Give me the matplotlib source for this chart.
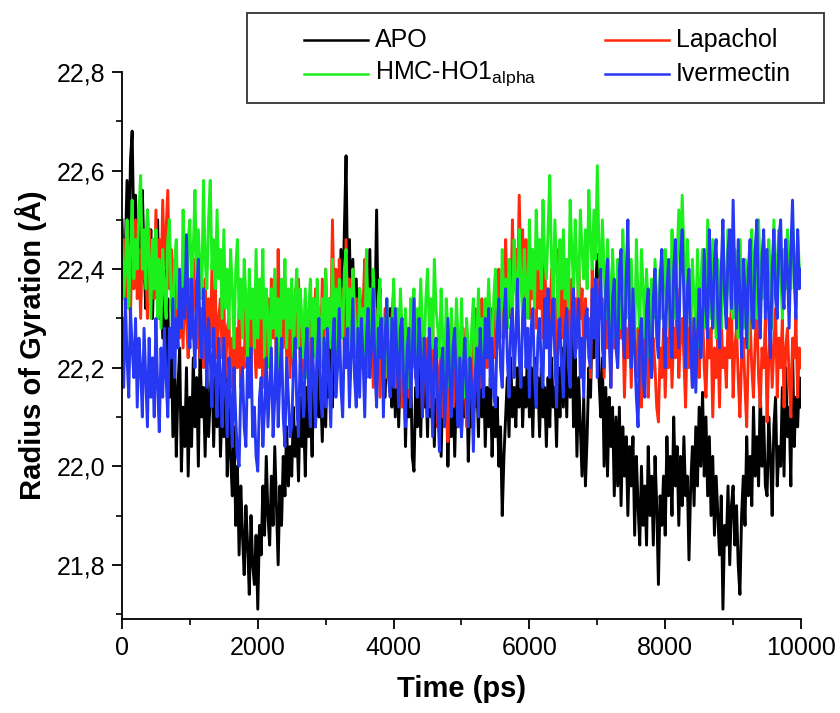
import numpy as np
import matplotlib
matplotlib.use('Agg')
import matplotlib.pyplot as plt
from matplotlib.lines import Line2D
from matplotlib.patches import Rectangle
from matplotlib.ticker import MultipleLocator, FuncFormatter

plt.rcParams['font.family'] = ['Liberation Sans', 'DejaVu Sans']
plt.rcParams['mathtext.fontset'] = 'custom'
plt.rcParams['mathtext.rm'] = 'Liberation Sans'

# radius of gyration (A), one sample every 25 ps from 0 to 10000 ps
# (one row = 500 ps)
apo = [
    22.50, 22.36, 22.44, 22.58, 22.40, 22.62, 22.68, 22.46, 22.55, 22.38, 22.50, 22.34, 22.56, 22.42, 22.32, 22.52, 22.38, 22.48, 22.30, 22.46,
    22.36, 22.50, 22.30, 22.44, 22.26, 22.40, 22.20, 22.34, 22.14, 22.28, 22.06, 22.22, 22.02, 22.16, 22.24, 21.99, 22.12, 22.04, 22.20, 21.98,
    22.14, 22.04, 22.22, 22.08, 22.18, 22.00, 22.24, 22.10, 22.16, 22.02, 22.20, 22.06, 22.14, 22.22, 22.04, 22.18, 22.08, 22.24, 22.02, 22.12,
    22.06, 22.18, 21.98, 22.12, 22.02, 21.94, 22.08, 21.88, 22.00, 21.82, 21.96, 21.86, 21.78, 21.92, 21.84, 21.74, 21.90, 21.80, 21.76, 21.86,
    21.71, 21.88, 21.82, 21.96, 21.86, 22.02, 21.90, 21.84, 21.98, 21.88, 22.04, 21.92, 21.80, 21.96, 21.88, 22.02, 21.94, 22.08, 21.96, 22.04,
    21.98, 22.12, 22.02, 22.08, 21.97, 22.14, 22.04, 22.10, 21.98, 22.16, 22.06, 22.12, 22.02, 22.18, 22.08, 22.22, 22.10, 22.16, 22.05, 22.20,
    22.08, 22.24, 22.14, 22.28, 22.12, 22.32, 22.20, 22.36, 22.26, 22.44, 22.30, 22.48, 22.63, 22.34, 22.46, 22.28, 22.42, 22.24, 22.38, 22.22,
    22.36, 22.20, 22.34, 22.18, 22.40, 22.26, 22.44, 22.22, 22.38, 22.30, 22.52, 22.26, 22.36, 22.18, 22.30, 22.14, 22.28, 22.20, 22.32, 22.12,
    22.26, 22.10, 22.24, 22.08, 22.20, 22.14, 22.26, 22.04, 22.18, 22.10, 22.22, 22.02, 21.99, 22.16, 22.08, 22.20, 22.06, 22.24, 22.12, 22.18,
    22.06, 22.22, 22.10, 22.18, 22.04, 22.20, 22.08, 22.14, 22.02, 22.16, 22.10, 22.20, 22.00, 22.14, 22.06, 22.18, 22.02, 22.16, 22.08, 22.20,
    22.06, 22.18, 22.10, 22.20, 22.01, 22.14, 22.08, 22.22, 22.12, 22.18, 22.06, 22.24, 22.10, 22.20, 22.04, 22.16, 22.08, 22.18, 22.02, 22.12,
    22.06, 22.14, 22.00, 22.08, 21.90, 22.02, 22.10, 22.18, 22.06, 22.22, 22.10, 22.16, 22.08, 22.20, 22.12, 22.24, 22.08, 22.18, 22.12, 22.26,
    22.10, 22.20, 22.06, 22.22, 22.12, 22.18, 22.06, 22.20, 22.10, 22.16, 22.04, 22.18, 22.08, 22.22, 22.12, 22.16, 22.04, 22.20, 22.10, 22.24,
    22.12, 22.26, 22.10, 22.28, 22.14, 22.30, 22.08, 22.22, 22.02, 22.18, 22.08, 21.98, 22.14, 21.96, 22.06, 22.20, 22.14, 22.30, 22.22, 22.36,
    22.43, 22.18, 22.10, 22.22, 22.00, 22.16, 21.98, 22.14, 22.04, 22.12, 21.94, 22.10, 21.96, 22.12, 21.92, 22.08, 21.98, 22.06, 21.90, 22.04,
    21.96, 22.06, 21.86, 22.02, 21.92, 21.84, 22.00, 21.88, 21.96, 21.84, 22.04, 21.90, 21.98, 21.84, 22.02, 21.92, 21.76, 21.94, 21.88, 21.98,
    21.86, 22.06, 21.94, 22.02, 21.90, 22.10, 21.96, 22.04, 21.88, 22.02, 21.92, 22.06, 21.94, 21.98, 21.81, 21.96, 22.04, 21.92, 22.08, 21.96,
    22.12, 22.00, 22.15, 21.98, 22.10, 21.94, 22.06, 21.90, 22.02, 21.86, 21.98, 21.90, 21.82, 21.94, 21.71, 21.88, 21.84, 21.96, 21.80, 21.92,
    21.96, 21.84, 21.92, 21.80, 21.74, 21.90, 21.98, 21.88, 22.06, 21.94, 22.02, 21.92, 22.12, 21.98, 22.06, 21.96, 22.16, 22.00, 22.10, 21.96,
    21.94, 22.10, 22.02, 21.90, 22.08, 22.14, 21.96, 22.04, 22.00, 22.16, 21.98, 22.20, 22.06, 22.12, 21.96, 22.24, 22.04, 22.14, 22.08, 22.18,
    22.12]

lapachol = [
    22.36, 22.46, 22.32, 22.48, 22.40, 22.30, 22.46, 22.36, 22.50, 22.34, 22.44, 22.30, 22.48, 22.38, 22.42, 22.30, 22.48, 22.36, 22.44, 22.34,
    22.52, 22.38, 22.46, 22.36, 22.54, 22.40, 22.48, 22.56, 22.36, 22.44, 22.32, 22.42, 22.28, 22.40, 22.26, 22.36, 22.24, 22.40, 22.30, 22.22,
    22.38, 22.26, 22.34, 22.42, 22.24, 22.36, 22.22, 22.32, 22.20, 22.38, 22.26, 22.34, 22.24, 22.40, 22.28, 22.36, 22.22, 22.30, 22.34, 22.22,
    22.34, 22.18, 22.28, 22.30, 22.16, 22.26, 22.14, 22.28, 22.20, 22.32, 22.16, 22.24, 22.20, 22.36, 22.22, 22.30, 22.18, 22.34, 22.26, 22.18,
    22.30, 22.20, 22.34, 22.16, 22.28, 22.22, 22.34, 22.20, 22.38, 22.26, 22.32, 22.20, 22.44, 22.28, 22.36, 22.24, 22.38, 22.22, 22.34, 22.18,
    22.32, 22.20, 22.36, 22.24, 22.38, 22.22, 22.30, 22.18, 22.34, 22.26, 22.30, 22.16, 22.34, 22.24, 22.36, 22.20, 22.32, 22.22, 22.38, 22.26,
    22.40, 22.26, 22.34, 22.28, 22.50, 22.30, 22.40, 22.24, 22.42, 22.30, 22.36, 22.24, 22.46, 22.30, 22.38, 22.26, 22.40, 22.22, 22.34, 22.28,
    22.36, 22.20, 22.32, 22.42, 22.18, 22.34, 22.26, 22.30, 22.16, 22.32, 22.22, 22.28, 22.14, 22.30, 22.20, 22.32, 22.18, 22.26, 22.22, 22.30,
    22.36, 22.16, 22.28, 22.22, 22.30, 22.12, 22.26, 22.20, 22.28, 22.14, 22.32, 22.20, 22.34, 22.18, 22.26, 22.22, 22.30, 22.10, 22.24, 22.18,
    22.26, 22.12, 22.22, 22.30, 22.14, 22.24, 22.08, 22.20, 22.24, 22.10, 22.18, 22.26, 22.05, 22.20, 22.26, 22.12, 22.22, 22.30, 22.14, 22.24,
    22.14, 22.28, 22.18, 22.08, 22.24, 22.16, 22.26, 22.12, 22.32, 22.20, 22.28, 22.16, 22.34, 22.22, 22.30, 22.20, 22.36, 22.24, 22.32, 22.22,
    22.38, 22.24, 22.40, 22.30, 22.36, 22.26, 22.46, 22.32, 22.42, 22.30, 22.50, 22.36, 22.44, 22.34, 22.55, 22.38, 22.48, 22.32, 22.46, 22.36,
    22.30, 22.44, 22.34, 22.40, 22.28, 22.46, 22.32, 22.38, 22.26, 22.42, 22.30, 22.36, 22.24, 22.40, 22.30, 22.34, 22.22, 22.44, 22.28, 22.36,
    22.26, 22.42, 22.32, 22.36, 22.20, 22.38, 22.28, 22.34, 22.24, 22.42, 22.30, 22.36, 22.22, 22.34, 22.26, 22.30, 22.18, 22.40, 22.28, 22.34,
    22.24, 22.38, 22.30, 22.34, 22.18, 22.32, 22.24, 22.34, 22.16, 22.30, 22.24, 22.36, 22.20, 22.32, 22.26, 22.30, 22.14, 22.28, 22.22, 22.30,
    22.16, 22.34, 22.24, 22.18, 22.28, 22.22, 22.12, 22.26, 22.20, 22.30, 22.14, 22.24, 22.18, 22.26, 22.20, 22.12, 22.09, 22.24, 22.18, 22.28,
    22.14, 22.26, 22.20, 22.32, 22.16, 22.28, 22.22, 22.36, 22.18, 22.26, 22.30, 22.22, 22.12, 22.28, 22.20, 22.34, 22.16, 22.30, 22.24, 22.38,
    22.18, 22.28, 22.32, 22.20, 22.14, 22.26, 22.22, 22.28, 22.10, 22.24, 22.18, 22.26, 22.12, 22.30, 22.20, 22.24, 22.16, 22.30, 22.22, 22.34,
    22.14, 22.24, 22.28, 22.18, 22.10, 22.22, 22.26, 22.16, 22.08, 22.24, 22.30, 22.20, 22.14, 22.26, 22.32, 22.18, 22.12, 22.24, 22.20, 22.30,
    22.09, 22.22, 22.28, 22.16, 22.24, 22.32, 22.14, 22.26, 22.20, 22.30, 22.12, 22.24, 22.28, 22.18, 22.10, 22.26, 22.22, 22.30, 22.14, 22.24,
    22.20]

hmc_ho1 = [
    22.46, 22.34, 22.40, 22.50, 22.32, 22.44, 22.54, 22.38, 22.46, 22.40, 22.52, 22.59, 22.40, 22.48, 22.36, 22.52, 22.42, 22.30, 22.46, 22.36,
    22.48, 22.30, 22.42, 22.28, 22.44, 22.36, 22.30, 22.46, 22.50, 22.34, 22.26, 22.42, 22.46, 22.32, 22.38, 22.28, 22.52, 22.40, 22.34, 22.46,
    22.50, 22.36, 22.44, 22.56, 22.38, 22.48, 22.40, 22.34, 22.58, 22.42, 22.36, 22.50, 22.58, 22.40, 22.46, 22.36, 22.52, 22.38, 22.44, 22.30,
    22.48, 22.32, 22.40, 22.28, 22.44, 22.36, 22.24, 22.40, 22.46, 22.30, 22.38, 22.26, 22.42, 22.34, 22.22, 22.40, 22.30, 22.36, 22.24, 22.44,
    22.26, 22.38, 22.30, 22.44, 22.22, 22.36, 22.30, 22.20, 22.36, 22.28, 22.40, 22.24, 22.34, 22.18, 22.38, 22.30, 22.42, 22.24, 22.36, 22.28,
    22.38, 22.22, 22.34, 22.40, 22.24, 22.36, 22.30, 22.22, 22.36, 22.18, 22.32, 22.38, 22.26, 22.34, 22.22, 22.38, 22.30, 22.20, 22.34, 22.28,
    22.40, 22.28, 22.34, 22.24, 22.42, 22.30, 22.36, 22.22, 22.38, 22.30, 22.26, 22.40, 22.44, 22.28, 22.36, 22.24, 22.40, 22.32, 22.26, 22.20,
    22.36, 22.26, 22.32, 22.22, 22.44, 22.30, 22.36, 22.26, 22.40, 22.30, 22.20, 22.34, 22.38, 22.24, 22.30, 22.18, 22.34, 22.26, 22.30, 22.20,
    22.38, 22.26, 22.32, 22.22, 22.36, 22.28, 22.18, 22.32, 22.24, 22.16, 22.34, 22.28, 22.36, 22.20, 22.32, 22.26, 22.38, 22.28, 22.22, 22.34,
    22.40, 22.28, 22.34, 22.24, 22.42, 22.32, 22.28, 22.22, 22.36, 22.26, 22.18, 22.34, 22.28, 22.16, 22.32, 22.24, 22.20, 22.34, 22.26, 22.18,
    22.34, 22.22, 22.14, 22.30, 22.24, 22.16, 22.28, 22.34, 22.18, 22.26, 22.36, 22.22, 22.30, 22.20, 22.34, 22.28, 22.38, 22.26, 22.24, 22.34,
    22.40, 22.28, 22.34, 22.26, 22.44, 22.32, 22.38, 22.28, 22.42, 22.34, 22.30, 22.46, 22.36, 22.32, 22.48, 22.38, 22.30, 22.44, 22.36, 22.30,
    22.50, 22.36, 22.44, 22.32, 22.52, 22.40, 22.46, 22.36, 22.54, 22.42, 22.38, 22.48, 22.59, 22.42, 22.34, 22.50, 22.40, 22.30, 22.46, 22.36,
    22.48, 22.34, 22.42, 22.32, 22.54, 22.44, 22.36, 22.50, 22.40, 22.34, 22.52, 22.44, 22.38, 22.48, 22.36, 22.56, 22.46, 22.40, 22.52, 22.42,
    22.61, 22.44, 22.36, 22.50, 22.40, 22.30, 22.46, 22.38, 22.28, 22.44, 22.34, 22.26, 22.42, 22.36, 22.28, 22.48, 22.38, 22.30, 22.44, 22.32,
    22.42, 22.30, 22.24, 22.46, 22.34, 22.28, 22.44, 22.36, 22.26, 22.40, 22.32, 22.22, 22.38, 22.30, 22.42, 22.34, 22.26, 22.40, 22.30, 22.36,
    22.44, 22.32, 22.38, 22.28, 22.48, 22.36, 22.30, 22.42, 22.52, 22.40, 22.55, 22.44, 22.32, 22.46, 22.38, 22.26, 22.42, 22.34, 22.28, 22.44,
    22.24, 22.38, 22.44, 22.32, 22.28, 22.50, 22.40, 22.30, 22.46, 22.36, 22.26, 22.42, 22.34, 22.28, 22.46, 22.38, 22.30, 22.48, 22.36, 22.32,
    22.30, 22.44, 22.36, 22.26, 22.46, 22.34, 22.28, 22.42, 22.36, 22.24, 22.40, 22.48, 22.32, 22.44, 22.30, 22.50, 22.38, 22.34, 22.46, 22.40,
    22.32, 22.46, 22.38, 22.28, 22.50, 22.42, 22.34, 22.48, 22.40, 22.30, 22.44, 22.36, 22.48, 22.40, 22.36, 22.50, 22.42, 22.32, 22.48, 22.40,
    22.38]

ivermectin = [
    22.30, 22.16, 22.34, 22.22, 22.14, 22.32, 22.24, 22.18, 22.30, 22.12, 22.26, 22.20, 22.10, 22.28, 22.18, 22.08, 22.26, 22.14, 22.22, 22.10,
    22.30, 22.16, 22.07, 22.24, 22.14, 22.28, 22.18, 22.10, 22.28, 22.22, 22.34, 22.18, 22.30, 22.24, 22.40, 22.28, 22.36, 22.30, 22.47, 22.32,
    22.24, 22.38, 22.28, 22.20, 22.36, 22.42, 22.26, 22.22, 22.36, 22.28, 22.16, 22.30, 22.22, 22.12, 22.28, 22.20, 22.10, 22.26, 22.18, 22.08,
    22.26, 22.16, 22.06, 22.22, 22.14, 22.04, 22.20, 22.10, 22.02, 22.00, 22.16, 22.20, 22.08, 22.04, 22.22, 22.14, 22.24, 22.06, 22.12, 22.02,
    21.99, 22.14, 22.18, 22.04, 22.12, 22.22, 22.08, 22.16, 22.24, 22.06, 22.14, 22.26, 22.08, 22.18, 22.26, 22.10, 22.04, 22.22, 22.14, 22.06,
    22.08, 22.20, 22.26, 22.12, 22.06, 22.24, 22.16, 22.10, 22.22, 22.28, 22.14, 22.08, 22.26, 22.18, 22.08, 22.22, 22.30, 22.14, 22.10, 22.26,
    22.12, 22.28, 22.18, 22.08, 22.24, 22.30, 22.14, 22.20, 22.32, 22.16, 22.10, 22.26, 22.20, 22.28, 22.12, 22.22, 22.34, 22.18, 22.12, 22.28,
    22.14, 22.30, 22.22, 22.10, 22.26, 22.32, 22.18, 22.24, 22.36, 22.20, 22.12, 22.28, 22.22, 22.30, 22.10, 22.26, 22.34, 22.18, 22.14, 22.30,
    22.16, 22.32, 22.22, 22.12, 22.28, 22.30, 22.16, 22.08, 22.24, 22.28, 22.12, 22.22, 22.34, 22.18, 22.14, 22.30, 22.22, 22.10, 22.26, 22.20,
    22.10, 22.28, 22.20, 22.06, 22.22, 22.26, 22.12, 22.03, 22.20, 22.24, 22.08, 22.16, 22.30, 22.18, 22.10, 22.24, 22.28, 22.14, 22.08, 22.22,
    22.06, 22.20, 22.26, 22.14, 22.08, 22.22, 22.16, 22.03, 22.18, 22.24, 22.10, 22.28, 22.20, 22.14, 22.30, 22.22, 22.32, 22.16, 22.26, 22.14,
    22.12, 22.28, 22.34, 22.20, 22.16, 22.30, 22.36, 22.22, 22.14, 22.28, 22.32, 22.18, 22.26, 22.38, 22.22, 22.16, 22.30, 22.34, 22.20, 22.28,
    22.14, 22.28, 22.32, 22.18, 22.12, 22.26, 22.30, 22.20, 22.16, 22.34, 22.24, 22.36, 22.18, 22.28, 22.34, 22.22, 22.12, 22.26, 22.30, 22.20,
    22.14, 22.28, 22.32, 22.20, 22.16, 22.30, 22.36, 22.22, 22.28, 22.34, 22.18, 22.26, 22.14, 22.30, 22.32, 22.22, 22.20, 22.36, 22.26, 22.38,
    22.18, 22.32, 22.40, 22.24, 22.20, 22.36, 22.42, 22.26, 22.16, 22.34, 22.38, 22.24, 22.20, 22.40, 22.44, 22.28, 22.22, 22.38, 22.50, 22.30,
    22.20, 22.36, 22.24, 22.14, 22.08, 22.26, 22.30, 22.18, 22.14, 22.32, 22.36, 22.22, 22.18, 22.34, 22.40, 22.26, 22.22, 22.38, 22.44, 22.30,
    22.20, 22.36, 22.42, 22.28, 22.22, 22.40, 22.46, 22.30, 22.24, 22.42, 22.48, 22.34, 22.20, 22.36, 22.40, 22.24, 22.16, 22.30, 22.15, 22.26,
    22.36, 22.22, 22.30, 22.44, 22.32, 22.26, 22.48, 22.36, 22.28, 22.42, 22.46, 22.30, 22.24, 22.40, 22.50, 22.34, 22.28, 22.44, 22.48, 22.32,
    22.54, 22.38, 22.28, 22.46, 22.34, 22.22, 22.42, 22.36, 22.24, 22.40, 22.46, 22.30, 22.28, 22.44, 22.50, 22.34, 22.26, 22.42, 22.48, 22.30,
    22.44, 22.30, 22.22, 22.40, 22.48, 22.34, 22.30, 22.46, 22.50, 22.36, 22.32, 22.46, 22.40, 22.28, 22.44, 22.54, 22.38, 22.30, 22.48, 22.36,
    22.40]

series = [
    ('APO', apo, '#000000'),
    ('Lapachol', lapachol, '#ff2a0d'),
    (r'HMC-HO1$_{\mathregular{alpha}}$', hmc_ho1, '#1cf01c'),
    ('Ivermectin', ivermectin, '#2638f2'),
]

fig = plt.figure(figsize=(8.4, 7.13), dpi=100)
ax = fig.add_axes([0.1452, 0.1318, 0.8084, 0.7672])

for name, vals, col in series:
    t = np.linspace(0, 10000, len(vals))
    ax.plot(t, vals, color=col, lw=2.1)

ax.set_xlim(0, 10000)
ax.set_ylim(21.69, 22.8)
ax.xaxis.set_major_locator(MultipleLocator(2000))
ax.xaxis.set_minor_locator(MultipleLocator(1000))
ax.yaxis.set_minor_locator(MultipleLocator(0.1))
ax.yaxis.set_major_formatter(FuncFormatter(lambda v, p: f'{v:.1f}'.replace('.', ',')))
ax.set_yticks([21.8, 22.0, 22.2, 22.4, 22.6, 22.8])

for s in ['top', 'right']:
    ax.spines[s].set_visible(False)
for s in ['left', 'bottom']:
    ax.spines[s].set_linewidth(1.3)
ax.tick_params(which='major', direction='out', length=7, width=1.3, labelsize=18, pad=5)
ax.tick_params(which='minor', direction='out', length=4, width=1.2)

ax.set_xlabel('Time (ps)', fontsize=21, fontweight='bold', labelpad=11)
ax.set_ylabel('Radius of Gyration (Å)', fontsize=21, fontweight='bold', labelpad=7)

# legend box drawn by hand so it can stick out past the axes
W, H = 840, 713
fig.patches.append(Rectangle((247 / W, 1 - 103 / H), (824 - 247) / W, 90 / H,
                             transform=fig.transFigure, fill=False,
                             edgecolor='#333333', lw=1.3))
slots = [(304, 40), (605, 40), (304, 74), (605, 74)]
for (px, py), (name, vals, col) in zip(slots, series):
    fig.lines.append(Line2D([px / W, (px + 64) / W], [1 - py / H, 1 - py / H],
                            transform=fig.transFigure, color=col, lw=1.8))
    fig.text((px + 71) / W, 1 - py / H, name, fontsize=18, va='center', ha='left')

fig.savefig('out.png', dpi=100)
